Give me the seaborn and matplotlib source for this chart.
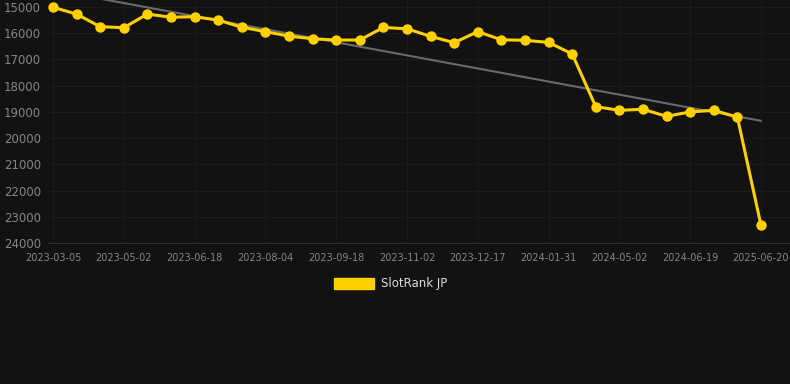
import matplotlib
matplotlib.use("Agg")
import matplotlib.pyplot as plt
import seaborn as sns
import numpy as np
import pandas as pd
from matplotlib.patches import Patch

# ---- data ----
rank_values = [15010, 15270, 15750, 15790, 15270, 15390, 15370, 15500, 15770, 15940,
               16110, 16210, 16260, 16260, 15780, 15830, 16120, 16360, 15940, 16250,
               16270, 16350, 16790, 18800, 18940, 18900, 19170, 19000, 18940, 19200,
               23320]
point_index = list(range(len(rank_values)))
tick_labels = ["2023-03-05", "2023-05-02", "2023-06-18", "2023-08-04", "2023-09-18",
               "2023-11-02", "2023-12-17", "2024-01-31", "2024-05-02", "2024-06-19",
               "2025-06-20"]
tick_positions = point_index[::3]
trend_x = [0, 30]
trend_values = [14350, 19340]
y_ticks = [15000, 16000, 17000, 18000, 19000, 20000, 21000, 22000, 23000, 24000]
series_name = "SlotRank JP"

BG = "#121212"
GRID = "#1b1b1b"
YELLOW = "#FFD000"
TEXT = "#858585"

sns.set_theme(style="dark")
plt.rcParams["font.family"] = ["DejaVu Sans"]

fig = plt.figure(figsize=(7.9, 3.84), dpi=100, facecolor=BG)
ax = fig.add_axes([48 / 790, 1 - 243 / 384, 742 / 790, 243 / 384])
ax.set_facecolor(BG)

df = pd.DataFrame({"x": point_index, "rank": rank_values})
tdf = pd.DataFrame({"x": trend_x, "rank": trend_values})

sns.lineplot(data=tdf, x="x", y="rank", ax=ax, color="#6a6a6a", linewidth=1.5, zorder=2)
sns.lineplot(data=df, x="x", y="rank", ax=ax, color=YELLOW, linewidth=2.2,
             marker="o", markersize=7.5, markeredgewidth=0, zorder=3)

ax.set_xlim(-0.21, 31.23)
ax.set_ylim(24000, 14733)
ax.set_yticks(y_ticks)
ax.set_yticklabels([str(v) for v in y_ticks])
ax.set_xticks(tick_positions)
ax.set_xticklabels(tick_labels)
ax.tick_params(axis="y", colors=TEXT, labelsize=8.5, length=0, pad=5)
ax.tick_params(axis="x", colors=TEXT, labelsize=7, length=3, pad=4, color="#2a2a2a")
ax.grid(True, color=GRID, linewidth=0.8)
ax.set_xlabel("")
ax.set_ylabel("")
for s in ["top", "right", "left"]:
    ax.spines[s].set_visible(False)
ax.spines["bottom"].set_color("#2e2e2e")
ax.spines["bottom"].set_linewidth(0.8)

handle = Patch(facecolor=YELLOW, edgecolor=YELLOW)
fig.legend(handles=[handle], labels=[series_name], loc="center",
           bbox_to_anchor=(391 / 790, 1 - 284 / 384), frameon=False,
           fontsize=8.5, labelcolor="#dddddd", handlelength=3.4, handleheight=1.1,
           handletextpad=0.6)

fig.savefig("out.png", dpi=100, facecolor=BG)
